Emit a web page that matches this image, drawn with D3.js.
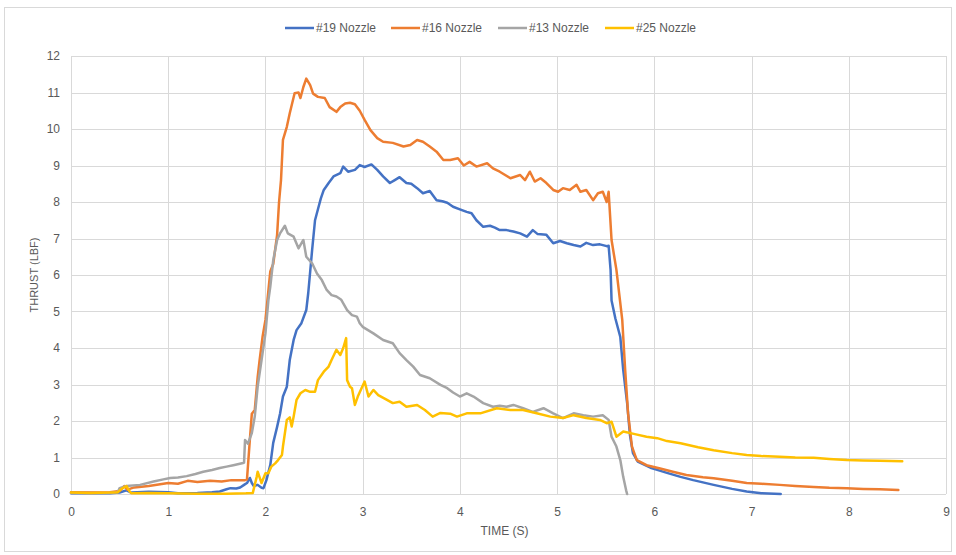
<!DOCTYPE html>
<html>
<head>
<meta charset="utf-8">
<script src="https://cdn.jsdelivr.net/npm/d3@7"></script>
<style>
  body { margin: 0; background: #fff; }
  text { font-family: "Liberation Sans", Arial, sans-serif; fill: #595959; }
</style>
</head>
<body>
<svg id="chart"></svg>
<script>
// series: [time (s), thrust (lbf)]
const nozzle19 = [[0,0.02],[0.2,0.03],[0.4,0.02],[0.5,0.04],[0.57,0.1],[0.62,0.04],[0.8,0.06],[1.0,0.05],[1.1,0.02],[1.3,0.03],[1.45,0.05],[1.53,0.07],[1.6,0.13],[1.64,0.16],[1.7,0.15],[1.74,0.18],[1.78,0.25],[1.81,0.3],[1.84,0.44],[1.86,0.3],[1.88,0.22],[1.92,0.25],[1.96,0.17],[1.98,0.16],[2.01,0.38],[2.05,0.8],[2.08,1.4],[2.12,1.84],[2.15,2.2],[2.18,2.67],[2.22,2.94],[2.25,3.67],[2.29,4.22],[2.32,4.49],[2.37,4.68],[2.42,5.04],[2.44,5.5],[2.48,6.68],[2.51,7.5],[2.54,7.8],[2.57,8.1],[2.6,8.33],[2.65,8.52],[2.7,8.7],[2.77,8.79],[2.8,8.97],[2.85,8.83],[2.92,8.88],[2.97,9.01],[3.02,8.96],[3.09,9.03],[3.15,8.88],[3.21,8.7],[3.28,8.52],[3.33,8.6],[3.38,8.68],[3.45,8.52],[3.5,8.5],[3.56,8.38],[3.62,8.24],[3.69,8.3],[3.76,8.05],[3.82,8.02],[3.87,7.98],[3.93,7.87],[4.0,7.8],[4.07,7.73],[4.12,7.69],[4.17,7.5],[4.24,7.32],[4.31,7.35],[4.36,7.3],[4.41,7.23],[4.48,7.23],[4.55,7.19],[4.62,7.14],[4.69,7.05],[4.75,7.23],[4.8,7.12],[4.89,7.1],[4.96,6.87],[5.03,6.93],[5.1,6.87],[5.17,6.82],[5.24,6.78],[5.3,6.88],[5.37,6.82],[5.44,6.84],[5.51,6.79],[5.53,6.8],[5.55,6.14],[5.56,5.3],[5.6,4.8],[5.65,4.3],[5.68,3.4],[5.72,2.5],[5.75,1.6],[5.78,1.12],[5.83,0.89],[5.96,0.72],[6.03,0.66],[6.13,0.58],[6.27,0.47],[6.4,0.38],[6.61,0.25],[6.8,0.14],[6.95,0.07],[7.1,0.02],[7.3,0.0]]

const nozzle16 = [[0,0.05],[0.2,0.04],[0.4,0.05],[0.5,0.08],[0.55,0.22],[0.58,0.12],[0.65,0.18],[0.8,0.22],[1.0,0.3],[1.1,0.28],[1.2,0.36],[1.3,0.33],[1.43,0.36],[1.55,0.34],[1.65,0.38],[1.79,0.38],[1.81,0.4],[1.84,1.5],[1.86,2.2],[1.89,2.3],[1.92,3.2],[1.94,3.67],[1.97,4.3],[2.0,4.77],[2.02,5.3],[2.05,6.1],[2.08,6.3],[2.12,7.1],[2.14,8.0],[2.16,8.6],[2.18,9.7],[2.22,10.06],[2.25,10.43],[2.3,10.98],[2.34,11.0],[2.36,10.85],[2.39,11.15],[2.42,11.38],[2.46,11.2],[2.49,10.97],[2.54,10.88],[2.61,10.85],[2.66,10.6],[2.73,10.47],[2.77,10.6],[2.82,10.7],[2.87,10.72],[2.92,10.68],[2.97,10.5],[3.02,10.25],[3.08,9.97],[3.15,9.75],[3.21,9.65],[3.31,9.62],[3.42,9.52],[3.49,9.56],[3.56,9.7],[3.62,9.65],[3.69,9.52],[3.76,9.38],[3.83,9.15],[3.9,9.15],[3.98,9.2],[4.04,9.0],[4.1,9.1],[4.17,8.97],[4.28,9.06],[4.34,8.92],[4.41,8.83],[4.52,8.65],[4.62,8.74],[4.67,8.6],[4.72,8.83],[4.77,8.56],[4.83,8.65],[4.89,8.52],[4.96,8.33],[5.01,8.28],[5.06,8.38],[5.13,8.33],[5.2,8.47],[5.24,8.28],[5.3,8.33],[5.37,8.05],[5.42,8.24],[5.47,8.28],[5.51,8.0],[5.53,8.28],[5.56,6.96],[5.61,6.14],[5.67,4.77],[5.7,3.4],[5.73,2.2],[5.77,1.3],[5.82,0.93],[5.92,0.79],[6.06,0.7],[6.19,0.61],[6.33,0.52],[6.5,0.46],[6.61,0.43],[6.8,0.36],[6.95,0.3],[7.1,0.28],[7.29,0.25],[7.45,0.22],[7.64,0.19],[7.8,0.17],[7.98,0.16],[8.15,0.14],[8.32,0.13],[8.51,0.11]]

const nozzle13 = [[0,0.03],[0.2,0.02],[0.4,0.03],[0.48,0.05],[0.5,0.16],[0.57,0.22],[0.71,0.25],[0.85,0.34],[0.95,0.4],[1.02,0.44],[1.1,0.45],[1.19,0.49],[1.28,0.55],[1.36,0.61],[1.45,0.66],[1.53,0.71],[1.6,0.75],[1.67,0.79],[1.77,0.85],[1.78,0.86],[1.79,1.48],[1.82,1.38],[1.86,1.67],[1.89,2.12],[1.92,2.94],[1.96,3.67],[2.0,4.4],[2.03,5.3],[2.05,5.68],[2.08,6.4],[2.12,6.96],[2.15,7.14],[2.2,7.35],[2.23,7.14],[2.29,7.05],[2.34,6.73],[2.39,6.96],[2.42,6.5],[2.48,6.32],[2.53,6.04],[2.58,5.86],[2.63,5.59],[2.68,5.45],[2.73,5.41],[2.78,5.32],[2.84,5.04],[2.89,4.9],[2.94,4.86],[2.97,4.68],[3.0,4.58],[3.11,4.4],[3.21,4.22],[3.31,4.13],[3.38,3.86],[3.45,3.67],[3.52,3.49],[3.59,3.26],[3.69,3.17],[3.8,2.99],[3.87,2.9],[3.93,2.78],[4.0,2.67],[4.07,2.76],[4.14,2.67],[4.24,2.49],[4.34,2.39],[4.41,2.42],[4.48,2.39],[4.55,2.44],[4.65,2.35],[4.75,2.25],[4.86,2.35],[4.96,2.21],[5.06,2.08],[5.17,2.21],[5.27,2.16],[5.37,2.12],[5.47,2.16],[5.53,2.03],[5.56,1.57],[5.61,1.3],[5.65,0.93],[5.68,0.47],[5.71,0.1],[5.72,0]]

const nozzle25 = [[0,0.04],[0.2,0.03],[0.4,0.04],[0.48,0.05],[0.52,0.14],[0.57,0.22],[0.6,0.08],[0.62,0.02],[0.8,0.03],[1.0,0.02],[1.3,0.01],[1.6,0.01],[1.8,0.02],[1.87,0.03],[1.91,0.47],[1.92,0.61],[1.96,0.3],[2.0,0.57],[2.03,0.57],[2.06,0.75],[2.1,0.84],[2.13,0.93],[2.17,1.07],[2.18,1.3],[2.22,2.03],[2.25,2.1],[2.27,1.85],[2.29,2.12],[2.32,2.58],[2.36,2.76],[2.41,2.85],[2.46,2.8],[2.51,2.8],[2.54,3.12],[2.6,3.35],[2.65,3.49],[2.68,3.67],[2.73,3.95],[2.77,3.81],[2.8,4.0],[2.83,4.27],[2.84,3.12],[2.87,2.94],[2.89,2.9],[2.92,2.44],[2.95,2.67],[3.02,3.08],[3.06,2.67],[3.11,2.85],[3.16,2.71],[3.25,2.58],[3.31,2.49],[3.38,2.53],[3.45,2.39],[3.56,2.44],[3.64,2.3],[3.72,2.12],[3.8,2.22],[3.9,2.2],[3.97,2.12],[4.07,2.21],[4.21,2.21],[4.38,2.35],[4.52,2.3],[4.65,2.3],[4.79,2.21],[4.93,2.12],[5.06,2.08],[5.17,2.16],[5.3,2.08],[5.44,2.03],[5.51,1.94],[5.56,1.98],[5.61,1.57],[5.68,1.71],[5.8,1.64],[5.92,1.57],[6.03,1.53],[6.13,1.45],[6.27,1.39],[6.45,1.28],[6.61,1.2],[6.8,1.12],[6.95,1.07],[7.1,1.04],[7.29,1.02],[7.45,1.0],[7.64,0.99],[7.8,0.96],[7.98,0.93],[8.15,0.92],[8.32,0.91],[8.55,0.9]]

const seriesNames = ['#19 Nozzle', '#16 Nozzle', '#13 Nozzle', '#25 Nozzle']
const seriesData = [nozzle19, nozzle16, nozzle13, nozzle25]
const colors = ['#4472c4', '#ed7d31', '#a5a5a5', '#ffc000']
const xTicks = [0,1,2,3,4,5,6,7,8,9]
const yTicks = [0,1,2,3,4,5,6,7,8,9,10,11,12]

let width = 956;
let height = 555;

let margin = {
    top: 56,
    right: 10,
    bottom: 61,
    left: 71
}

const svg = d3.select('#chart')
    .attr('width', width)
    .attr('height', height)

// chart border
svg.append('rect')
    .attr('x', 4.5).attr('y', 7.5)
    .attr('width', 947).attr('height', 544)
    .attr('fill', 'none')
    .attr('stroke', '#d9d9d9')

let x = d3.scaleLinear().domain([0, 9]).range([margin.left, width - margin.right])
let y = d3.scaleLinear().domain([0, 12]).range([height - margin.bottom, margin.top])

// grid
svg.append('g').selectAll('line')
    .data(yTicks)
    .join('line')
    .attr('x1', x(0)).attr('x2', x(9))
    .attr('y1', d => Math.round(y(d)) + 0.5).attr('y2', d => Math.round(y(d)) + 0.5)
    .attr('stroke', '#d9d9d9')

svg.append('g').selectAll('line')
    .data(xTicks)
    .join('line')
    .attr('x1', d => Math.round(x(d)) + 0.5).attr('x2', d => Math.round(x(d)) + 0.5)
    .attr('y1', y(0)).attr('y2', y(12))
    .attr('stroke', '#d9d9d9')

// axes (labels only)
let xAxis = svg.append('g')
    .attr('transform', `translate(0,${y(0) + 10})`)
    .call(d3.axisBottom(x).tickValues(xTicks).tickSize(0).tickFormat(d3.format('d')))
xAxis.select('.domain').remove()
xAxis.selectAll('text').style('font-size', '12px').style('fill', '#595959')

let yAxis = svg.append('g')
    .attr('transform', `translate(${x(0) - 8},0)`)
    .call(d3.axisLeft(y).tickValues(yTicks).tickSize(0).tickFormat(d3.format('d')))
yAxis.select('.domain').remove()
yAxis.selectAll('text').style('font-size', '12px').style('fill', '#595959')

svg.append('text')
    .attr('x', (x(0) + x(9)) / 2 - 4)
    .attr('y', 535)
    .attr('text-anchor', 'middle')
    .style('font-size', '12px')
    .text('TIME (S)')

svg.append('text')
    .attr('transform', `translate(38,${(y(0) + y(12)) / 2}) rotate(-90)`)
    .attr('text-anchor', 'middle')
    .style('font-size', '11px')
    .text('THRUST (LBF)')

// lines
let line = d3.line()
    .x(d => x(d[0]))
    .y(d => y(d[1]))

svg.append('g').selectAll('path')
    .data(seriesData)
    .join('path')
    .attr('d', line)
    .attr('fill', 'none')
    .attr('stroke', (d, i) => colors[i])
    .attr('stroke-width', 2.5)
    .attr('stroke-linejoin', 'round')
    .attr('stroke-linecap', 'round')

// legend
let legendX = [285, 391, 498, 605]
let legend = svg.append('g').selectAll('g')
    .data(seriesNames)
    .join('g')
    .attr('transform', (d, i) => `translate(${legendX[i]},28)`)

legend.append('line')
    .attr('x1', 0).attr('x2', 29)
    .attr('stroke', (d, i) => colors[i])
    .attr('stroke-width', 2.5)

legend.append('text')
    .attr('x', 31)
    .attr('dy', '0.35em')
    .style('font-size', '12px')
    .text(d => d)
</script>
</body>
</html>
